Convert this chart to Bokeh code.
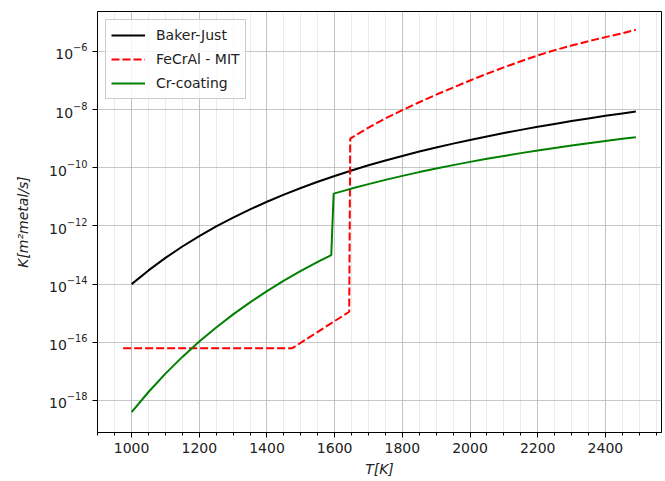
from bokeh.plotting import figure
from bokeh.models import Range1d, FixedTicker, LogTickFormatter
from bokeh.embed import file_html
from bokeh.resources import INLINE

# ---- data ----
bj_T = [1000, 1050, 1100, 1150, 1200, 1250, 1300, 1350, 1400, 1450, 1500, 1550, 1600, 1650,
        1700, 1750, 1800, 1850, 1900, 1950, 2000, 2050, 2100, 2150, 2200, 2250, 2300, 2350,
        2400, 2450, 2490]
bj_K = [1.0e-14, 2.96e-14, 7.96e-14, 1.96e-13, 4.49e-13, 9.6e-13, 1.94e-12, 3.72e-12, 6.79e-12,
        1.19e-11, 2.01e-11, 3.29e-11, 5.21e-11, 8.04e-11, 1.21e-10, 1.77e-10, 2.55e-10, 3.59e-10,
        4.97e-10, 6.75e-10, 9.04e-10, 1.19e-9, 1.56e-9, 2.0e-9, 2.55e-9, 3.21e-9, 4.01e-9,
        4.95e-9, 6.07e-9, 7.36e-9, 8.55e-9]

fe_T = [975, 1475, 1643, 1646, 1700, 1750, 1800, 1850, 1900, 1950, 2000, 2050, 2100, 2150,
        2200, 2250, 2300, 2350, 2400, 2450, 2490]
fe_K = [6.3e-17, 6.3e-17, 1.12e-15, 1.0e-9, 2.4e-9, 5.0e-9, 9.5e-9, 1.78e-8, 3.24e-8, 5.7e-8,
        1.0e-7, 1.7e-7, 2.82e-7, 4.57e-7, 7.24e-7, 1.1e-6, 1.58e-6, 2.24e-6, 3.09e-6, 4.17e-6,
        5.5e-6]

cr_T = [1000, 1050, 1100, 1150, 1200, 1250, 1300, 1350, 1400, 1450, 1500, 1550, 1590, 1597,
        1650, 1700, 1750, 1800, 1850, 1900, 1950, 2000, 2050, 2100, 2150, 2200, 2250, 2300,
        2350, 2400, 2450, 2490]
cr_K = [3.98e-19, 1.96e-18, 8.4e-18, 3.15e-17, 1.06e-16, 3.24e-16, 9.1e-16, 2.36e-15, 5.74e-15,
        1.31e-14, 2.83e-14, 5.82e-14, 1.0e-13, 1.29e-11, 1.92e-11, 2.74e-11, 3.83e-11, 5.26e-11,
        7.08e-11, 9.4e-11, 1.23e-10, 1.59e-10, 2.02e-10, 2.55e-10, 3.18e-10, 3.92e-10, 4.79e-10,
        5.81e-10, 6.98e-10, 8.32e-10, 9.86e-10, 1.12e-9]

x_ticks = [1000, 1200, 1400, 1600, 1800, 2000, 2200, 2400]
x_minor = list(range(900, 2600, 50))
y_ticks = [1e-18, 1e-16, 1e-14, 1e-12, 1e-10, 1e-8, 1e-6]

series_names = ["Baker-Just", "FeCrAl - MIT", "Cr-coating"]
x_label = "T[K]"
y_label = "K[m\u00b2metal/s]"

FONT = "DejaVu Sans"

p = figure(width=663, height=481, y_axis_type="log",
           x_range=Range1d(899.25, 2565.75), y_range=Range1d(10 ** -19.1, 10 ** -4.63),
           output_backend="svg", toolbar_location=None,
           min_border_left=97, min_border_right=2, min_border_top=11, min_border_bottom=49)

p.line(bj_T, bj_K, line_color="black", line_width=2, legend_label=series_names[0])
p.line(fe_T, fe_K, line_color="red", line_width=2, line_dash="8 3", legend_label=series_names[1])
p.line(cr_T, cr_K, line_color="green", line_width=2, legend_label=series_names[2])

p.outline_line_color = "black"
p.outline_line_width = 1
p.outline_line_alpha = 1

p.xaxis.ticker = FixedTicker(ticks=x_ticks, minor_ticks=x_minor)
p.yaxis.ticker = FixedTicker(ticks=y_ticks, minor_ticks=[])
p.yaxis.formatter = LogTickFormatter()

for ax in (p.xaxis[0], p.yaxis[0]):
    ax.axis_line_color = "black"
    ax.major_tick_line_color = "black"
    ax.minor_tick_line_color = "black"
    ax.major_tick_out = 5
    ax.major_tick_in = 0
    ax.minor_tick_out = 3
    ax.minor_tick_in = 0
    ax.major_label_text_font = FONT
    ax.major_label_text_font_size = "14px"
    ax.major_label_text_color = "#222222"
    ax.axis_label_text_font = FONT
    ax.axis_label_text_font_size = "14px"
    ax.axis_label_text_font_style = "italic"
    ax.axis_label_text_color = "#222222"
    ax.major_label_standoff = 5

p.xaxis.axis_label = x_label
p.yaxis.axis_label = y_label
p.xaxis.axis_label_standoff = 5
p.yaxis.axis_label_standoff = 15

p.xgrid.grid_line_color = "#b0b0b0"
p.xgrid.grid_line_alpha = 0.7
p.xgrid.minor_grid_line_color = "#b0b0b0"
p.xgrid.minor_grid_line_alpha = 0.25
p.ygrid.grid_line_color = "#b0b0b0"
p.ygrid.grid_line_alpha = 0.7

lg = p.legend[0]
lg.location = "top_left"
lg.margin = 8
lg.padding = 5
lg.spacing = 4
lg.glyph_width = 34
lg.glyph_height = 20
lg.label_standoff = 11
lg.label_text_font = FONT
lg.label_text_font_size = "14px"
lg.label_text_color = "#222222"
lg.border_line_color = "#cccccc"
lg.border_line_alpha = 1
lg.background_fill_alpha = 0.8

open("out.html", "w").write(file_html(p, INLINE))
